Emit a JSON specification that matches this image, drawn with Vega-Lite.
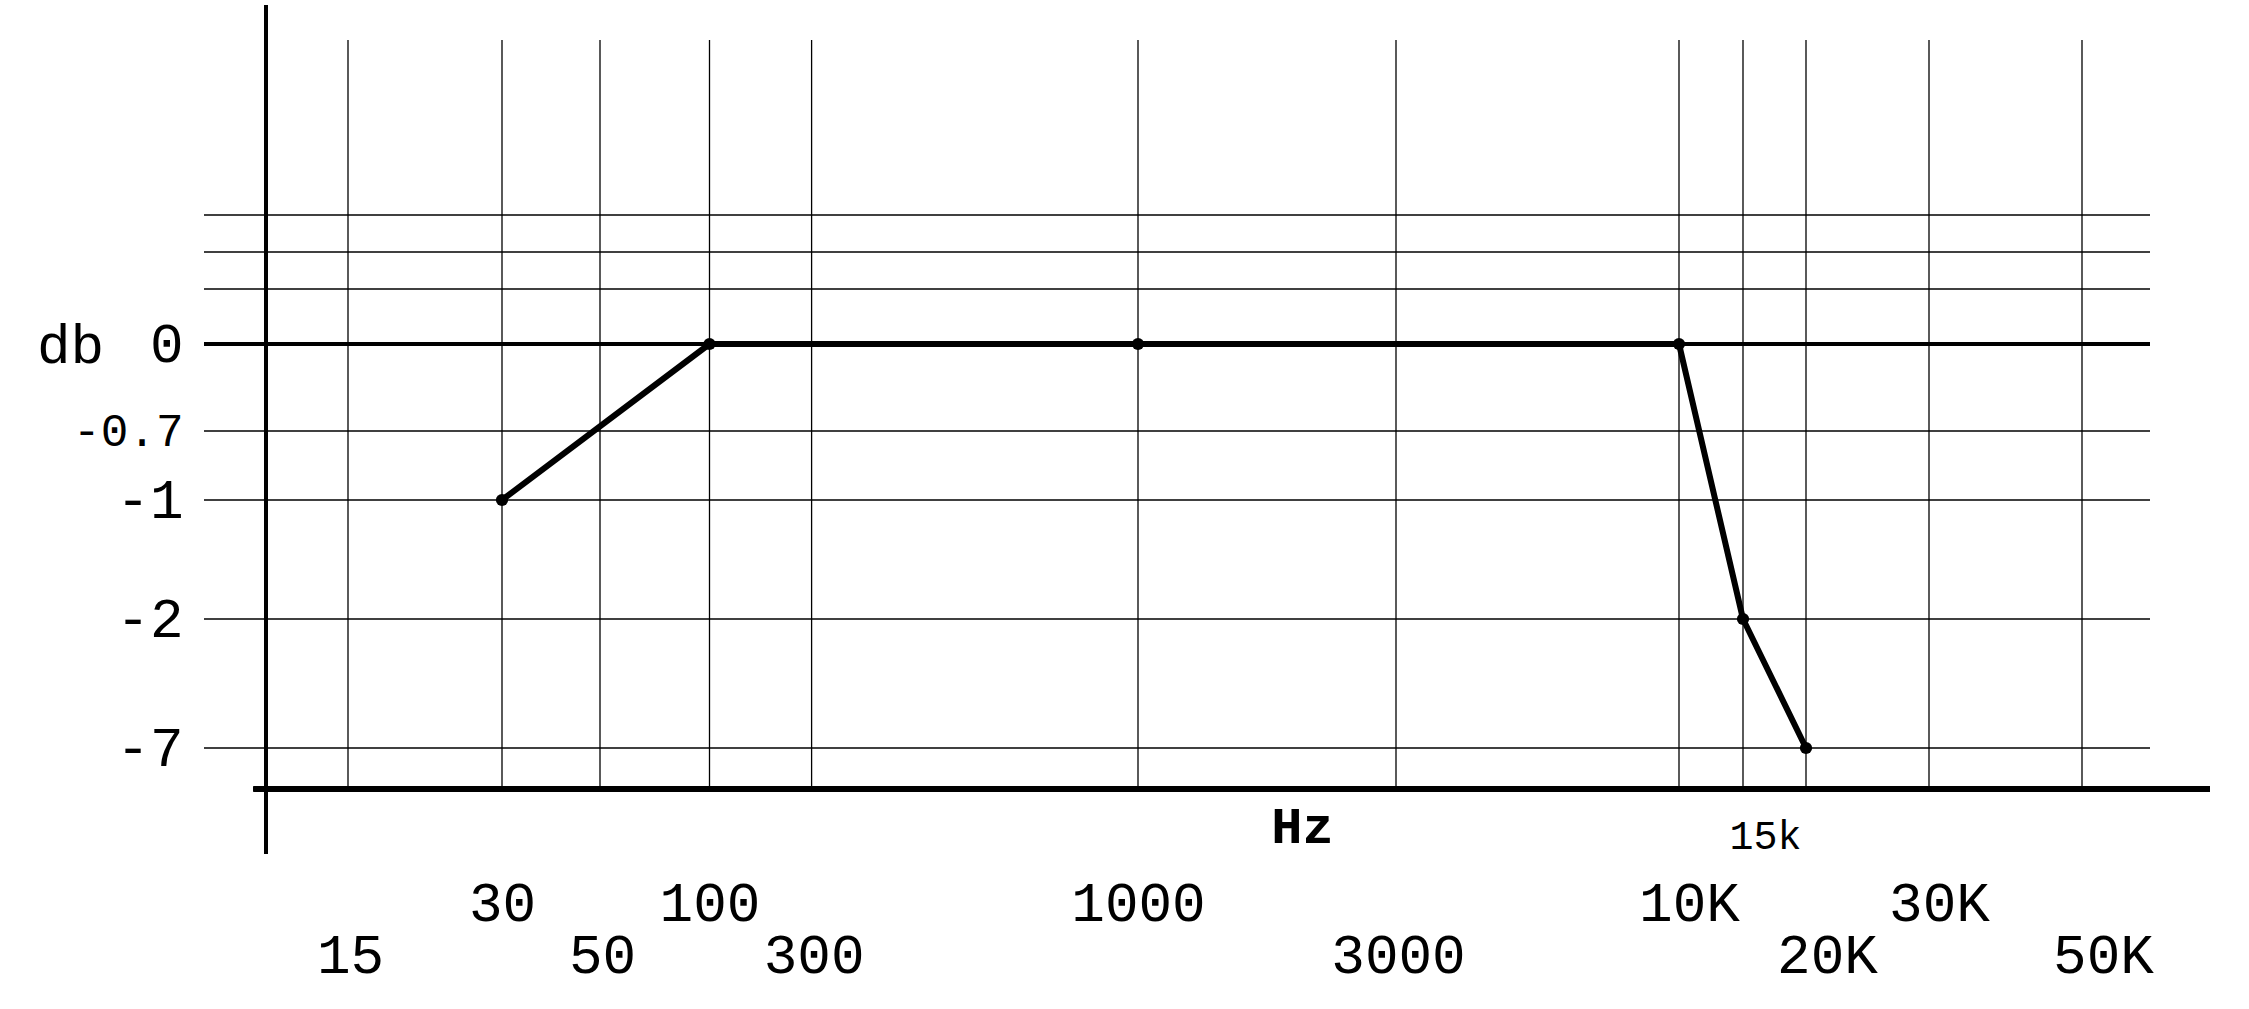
{
  "$schema": "https://vega.github.io/schema/vega-lite/v6.json",
  "width": 2006,
  "height": 849,
  "autosize": {"type": "none"},
  "padding": {"left": 204, "top": 5, "right": 39, "bottom": 155},
  "background": "white",
  "config": {
    "view": {"stroke": null},
    "axis": {
      "labelFont": "Liberation Mono",
      "labelColor": "black",
      "titleColor": "black",
      "titleFont": "Liberation Mono",
      "ticks": false,
      "domain": false,
      "grid": false,
      "labelFontSize": 56,
      "labelBaseline": "middle",
      "labelFlush": false,
      "labelOverlap": false
    }
  },
  "datasets": {
    "hgrid": [{"db": 3}, {"db": 2}, {"db": 1}, {"db": 0}, {"db": -0.7}, {"db": -1}, {"db": -2}, {"db": -7}],
    "vgrid": [{"hz": 15}, {"hz": 30}, {"hz": 50}, {"hz": 100}, {"hz": 300}, {"hz": 1000}, {"hz": 3000}, {"hz": 10000}, {"hz": 15000}, {"hz": 20000}, {"hz": 30000}, {"hz": 50000}],
    "response": [
      {"hz": 30, "db": -1},
      {"hz": 100, "db": 0},
      {"hz": 1000, "db": 0},
      {"hz": 10000, "db": 0},
      {"hz": 15000, "db": -2},
      {"hz": 20000, "db": -7}
    ]
  },
  "layer": [
    {
      "data": {"name": "hgrid"},
      "mark": {"type": "rule", "color": "black"},
      "encoding": {
        "y": {
          "field": "db",
          "type": "quantitative",
          "scale": {"type": "linear", "domain": [-12, -9, -7, -2, -1, -0.7, 0, 1, 2, 3, 6, 8], "range": [849, 784, 743, 614, 495, 426, 339, 284, 247, 210, 35, 0], "nice": false, "zero": false},
          "axis": {
            "orient": "left",
            "values": [-7, -2, -1, -0.7, 0],
            "labelExpr": "'' + datum.value",
            "labelPadding": 21,
            "labelFontSize": {"condition": {"test": "datum.value == -0.7", "value": 46}, "value": 56},
            "title": "db",
            "titleAngle": 0,
            "titleFontSize": 56,
            "titleFontWeight": "normal",
            "titleBaseline": "middle",
            "titleAlign": "center",
            "titleX": -134,
            "titleY": 340
          }
        },
        "x": {
          "datum": 5,
          "type": "quantitative",
          "scale": {"type": "linear", "domain": [5, 10, 15, 30, 50, 100, 300, 1000, 3000, 10000, 15000, 20000, 30000, 50000, 70000, 100000], "range": [0, 62, 144, 298, 396, 505.5, 607.6, 934, 1192, 1475, 1539, 1602, 1725, 1878, 1946, 2006], "nice": false, "zero": false},
          "axis": {
            "orient": "bottom",
            "values": [30, 100, 1000],
            "labelExpr": "'' + datum.value",
            "labelPadding": 49,
            "title": "Hz",
            "titleFontSize": 52,
            "titleFontWeight": "bold",
            "titleBaseline": "middle",
            "titleAlign": "center",
            "titleX": 1098,
            "titleY": -28
          }
        },
        "x2": {"datum": 70000},
        "strokeWidth": {"condition": {"test": "datum.db === 0", "value": 4}, "value": 1.3}
      }
    },
    {
      "data": {"name": "vgrid"},
      "mark": {"type": "rule", "color": "black", "strokeWidth": 1.3},
      "encoding": {
        "x": {
          "field": "hz",
          "type": "quantitative",
          "axis": {
            "orient": "bottom",
            "values": [15, 50, 300, 3000],
            "labelExpr": "'' + datum.value",
            "labelPadding": 101,
            "labelOffset": 2,
            "title": null
          }
        },
        "y": {"datum": 6, "type": "quantitative", "axis": null},
        "y2": {"datum": -9}
      }
    },
    {
      "data": {"name": "hgrid"},
      "mark": {"type": "rule", "color": "black", "strokeWidth": 5},
      "encoding": {
        "x": {
          "datum": 9,
          "type": "quantitative",
          "axis": {
            "orient": "bottom",
            "values": [10000, 30000],
            "labelExpr": "(datum.value / 1000) + 'K'",
            "labelPadding": 49,
            "labelOffset": 10,
            "title": null
          }
        },
        "x2": {"datum": 100000},
        "y": {"datum": -9, "type": "quantitative", "axis": null}
      }
    },
    {
      "data": {"name": "hgrid"},
      "mark": {"type": "rule", "color": "black", "strokeWidth": 3.5},
      "encoding": {
        "x": {
          "datum": 10,
          "type": "quantitative",
          "axis": {
            "orient": "bottom",
            "values": [20000, 50000],
            "labelExpr": "(datum.value / 1000) + 'K'",
            "labelPadding": 101,
            "labelOffset": 21,
            "title": null
          }
        }
      }
    },
    {
      "data": {"name": "response"},
      "mark": {"type": "line", "color": "black", "strokeWidth": 6, "strokeJoin": "round", "strokeCap": "round"},
      "encoding": {
        "x": {
          "field": "hz",
          "type": "quantitative",
          "axis": {
            "orient": "bottom",
            "values": [15000],
            "labelExpr": "'15k'",
            "labelFontSize": 40,
            "offset": -18,
            "labelPadding": 0,
            "labelOffset": 22,
            "title": null
          }
        },
        "y": {"field": "db", "type": "quantitative", "axis": null}
      }
    },
    {
      "data": {"name": "response"},
      "mark": {"type": "point", "filled": true, "shape": "circle", "size": 150, "color": "black", "opacity": 1},
      "encoding": {
        "x": {"field": "hz", "type": "quantitative", "axis": null},
        "y": {"field": "db", "type": "quantitative", "axis": null}
      }
    }
  ],
  "resolve": {"axis": {"x": "independent", "y": "independent"}}
}
